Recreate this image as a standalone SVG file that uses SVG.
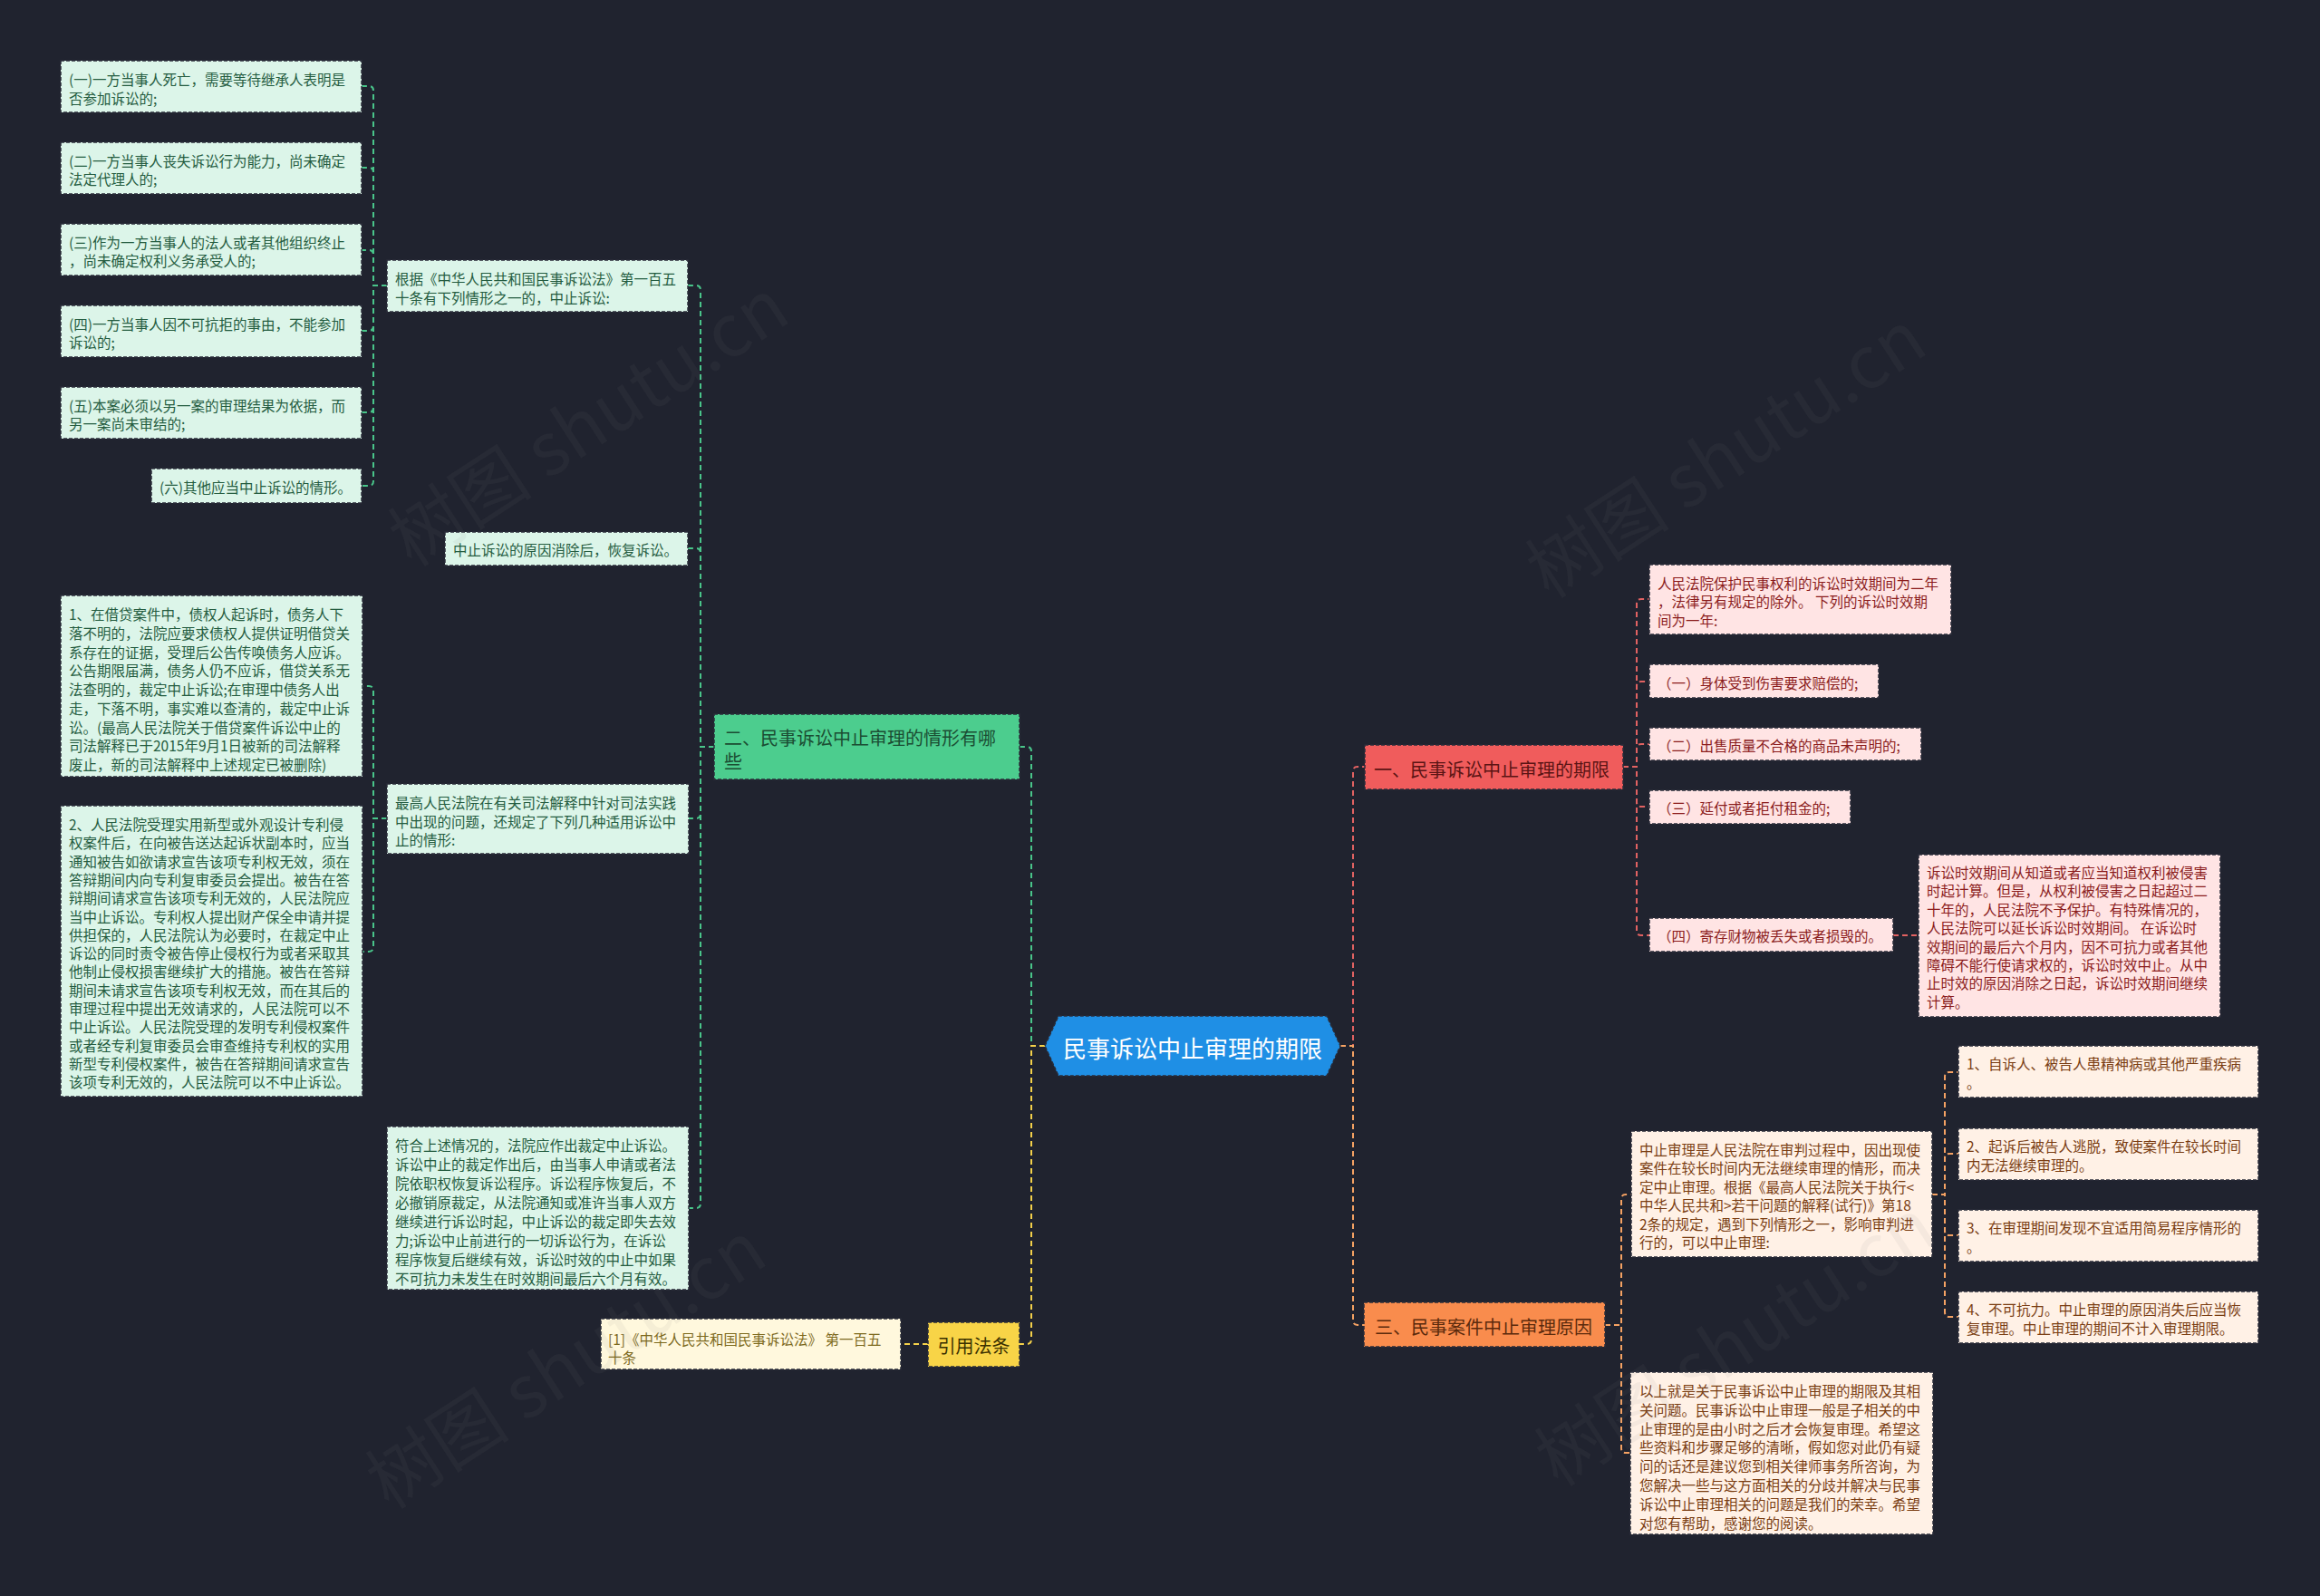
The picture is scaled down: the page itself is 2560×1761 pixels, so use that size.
<svg xmlns="http://www.w3.org/2000/svg" width="2560" height="1761" viewBox="0 0 2560 1761">
<defs>
<style>
text{font-family:"Noto Sans CJK SC","Noto Sans",sans-serif;}
.s{font-size:15.5px;dominant-baseline:central;}
.b{font-size:20px;dominant-baseline:central;}
.box{stroke:#2a2d3a;stroke-width:1.5;stroke-dasharray:4 2;}
.gl{fill:#dcf5e9;} .gt{fill:#245c40;}
.rl{fill:#ffe4e4;} .rt{fill:#8b1c1c;}
.ol{fill:#fff1e6;} .ot{fill:#7a3d12;}
.yl{fill:#fff8dd;} .yt{fill:#7d6a1e;}
.c{fill:none;stroke-width:2;stroke-dasharray:6 4;}
.cg{stroke:#49c58a;} .cr{stroke:#e26262;} .co{stroke:#f5a263;} .cy{stroke:#f3d04a;}
.wm{font-size:80px;fill:#808080;fill-opacity:0.08;}
</style>
</defs>
<rect x="0" y="0" width="2560" height="1761" fill="#20232f"/>

<g id="connectors">
<path class="c cg" d="M1153 1154 H1138 V829 Q1138 824 1133 824 H1125"/>
<path class="c cy" d="M1153 1154 H1138 V1478 Q1138 1483 1133 1483 H1125"/>
<path class="c cg" d="M788 824 H773 V320 Q773 315 768 315 H759"/>
<path class="c cg" d="M788 824 H773 V610 Q773 605 768 605 H759"/>
<path class="c cg" d="M788 824 H773 V898 Q773 903 768 903 H760"/>
<path class="c cg" d="M788 824 H773 V1328 Q773 1333 768 1333 H760"/>
<path class="c cg" d="M427 315 H412 V100 Q412 95 407 95 H399"/>
<path class="c cg" d="M427 315 H412 V190 Q412 185 407 185 H399"/>
<path class="c cg" d="M427 315 H412 V281 Q412 276 407 276 H399"/>
<path class="c cg" d="M427 315 H412 V360 Q412 365 407 365 H399"/>
<path class="c cg" d="M427 315 H412 V450 Q412 455 407 455 H399"/>
<path class="c cg" d="M427 315 H412 V531 Q412 536 407 536 H399"/>
<path class="c cg" d="M427 903 H412 V762 Q412 757 407 757 H400"/>
<path class="c cg" d="M427 903 H412 V1045 Q412 1050 407 1050 H400"/>
<path class="c cy" d="M1024 1483 H994"/>
<path class="c cr" d="M1479 1154 H1493 V851 Q1493 846 1498 846 H1506"/>
<path class="c co" d="M1479 1154 H1493 V1457 Q1493 1462 1498 1462 H1505"/>
<path class="c cr" d="M1791 846 H1806 V666 Q1806 661 1811 661 H1820"/>
<path class="c cr" d="M1791 846 H1806 V757 Q1806 752 1811 752 H1820"/>
<path class="c cr" d="M1791 846 H1806 V826 Q1806 821 1811 821 H1820"/>
<path class="c cr" d="M1791 846 H1806 V885 Q1806 890 1811 890 H1820"/>
<path class="c cr" d="M1791 846 H1806 V1027 Q1806 1032 1811 1032 H1820"/>
<path class="c cr" d="M2089 1032 H2117"/>
<path class="c co" d="M1771 1462 H1789 V1323 Q1789 1318 1794 1318 H1800"/>
<path class="c co" d="M1771 1462 H1789 V1598 Q1789 1603 1794 1603 H1799"/>
<path class="c co" d="M2132 1318 H2146 V1188 Q2146 1183 2151 1183 H2161"/>
<path class="c co" d="M2132 1318 H2146 V1278 Q2146 1273 2151 1273 H2161"/>
<path class="c co" d="M2132 1318 H2146 V1358 Q2146 1363 2151 1363 H2161"/>
<path class="c co" d="M2132 1318 H2146 V1448 Q2146 1453 2151 1453 H2161"/>
</g>

<g id="center">
<polygon class="box" points="1153,1154 1168,1121 1464,1121 1479,1154 1464,1187 1168,1187" fill="#1f8fe5"/>
<text x="1316" y="1155" font-size="26" fill="#ffffff" text-anchor="middle" dominant-baseline="central">民事诉讼中止审理的期限</text>
</g>

<g id="n-er">
<rect class="box" x="788" y="788" width="337" height="72" fill="#4ccd8e"/>
<text class="b" x="799" fill="#1b4d33"><tspan x="799" y="813">二、民事诉讼中止审理的情形有哪</tspan><tspan x="799" y="839">些</tspan></text>
</g>

<g id="n-m1">
<rect class="box gl" x="427" y="287" width="332" height="57"/>
<text class="s gt"><tspan x="436" y="307">根据《中华人民共和国民事诉讼法》第一百五</tspan><tspan x="436" y="327.6">十条有下列情形之一的，中止诉讼:</tspan></text>
</g>
<g id="n-l1">
<rect class="box gl" x="67" y="67" width="332" height="57"/>
<text class="s gt"><tspan x="76" y="87">(一)一方当事人死亡，需要等待继承人表明是</tspan><tspan x="76" y="107.5">否参加诉讼的;</tspan></text>
</g>
<g id="n-l2">
<rect class="box gl" x="67" y="157" width="332" height="57"/>
<text class="s gt"><tspan x="76" y="176.7">(二)一方当事人丧失诉讼行为能力，尚未确定</tspan><tspan x="76" y="197.3">法定代理人的;</tspan></text>
</g>
<g id="n-l3">
<rect class="box gl" x="67" y="247" width="332" height="57"/>
<text class="s gt"><tspan x="76" y="266.5">(三)作为一方当事人的法人或者其他组织终止</tspan><tspan x="76" y="287">，尚未确定权利义务承受人的;</tspan></text>
</g>
<g id="n-l4">
<rect class="box gl" x="67" y="337" width="332" height="57"/>
<text class="s gt"><tspan x="76" y="356.5">(四)一方当事人因不可抗拒的事由，不能参加</tspan><tspan x="76" y="377">诉讼的;</tspan></text>
</g>
<g id="n-l5">
<rect class="box gl" x="67" y="427" width="332" height="57"/>
<text class="s gt"><tspan x="76" y="446.5">(五)本案必须以另一案的审理结果为依据，而</tspan><tspan x="76" y="467">另一案尚未审结的;</tspan></text>
</g>
<g id="n-l6">
<rect class="box gl" x="167" y="517" width="232" height="38"/>
<text class="s gt" x="176" y="537">(六)其他应当中止诉讼的情形。</text>
</g>
<g id="n-m2">
<rect class="box gl" x="491" y="587" width="268" height="37"/>
<text class="s gt" x="500" y="606">中止诉讼的原因消除后，恢复诉讼。</text>
</g>
<g id="n-m3">
<rect class="box gl" x="427" y="865" width="333" height="77"/>
<text class="s gt"><tspan x="436" y="885">最高人民法院在有关司法解释中针对司法实践</tspan><tspan x="436" y="905.5">中出现的问题，还规定了下列几种适用诉讼中</tspan><tspan x="436" y="926">止的情形:</tspan></text>
</g>
<g id="n-l7">
<rect class="box gl" x="67" y="657" width="333" height="200"/>
<text class="s gt"><tspan x="76" y="677">1、在借贷案件中，债权人起诉时，债务人下</tspan><tspan x="76" y="697.75">落不明的，法院应要求债权人提供证明借贷关</tspan><tspan x="76" y="718.5">系存在的证据，受理后公告传唤债务人应诉。</tspan><tspan x="76" y="739.25">公告期限届满，债务人仍不应诉，借贷关系无</tspan><tspan x="76" y="760">法查明的，裁定中止诉讼;在审理中债务人出</tspan><tspan x="76" y="780.75">走，下落不明，事实难以查清的，裁定中止诉</tspan><tspan x="76" y="801.5">讼。(最高人民法院关于借贷案件诉讼中止的</tspan><tspan x="76" y="822.25">司法解释已于2015年9月1日被新的司法解释</tspan><tspan x="76" y="843">废止，新的司法解释中上述规定已被删除)</tspan></text>
</g>
<g id="n-l8">
<rect class="box gl" x="67" y="889" width="333" height="321"/>
<text class="s gt"><tspan x="76" y="909">2、人民法院受理实用新型或外观设计专利侵</tspan><tspan x="76" y="929.3">权案件后，在向被告送达起诉状副本时，应当</tspan><tspan x="76" y="949.6">通知被告如欲请求宣告该项专利权无效，须在</tspan><tspan x="76" y="969.9">答辩期间内向专利复审委员会提出。被告在答</tspan><tspan x="76" y="990.2">辩期间请求宣告该项专利无效的，人民法院应</tspan><tspan x="76" y="1010.5">当中止诉讼。专利权人提出财产保全申请并提</tspan><tspan x="76" y="1030.8">供担保的，人民法院认为必要时，在裁定中止</tspan><tspan x="76" y="1051.1">诉讼的同时责令被告停止侵权行为或者采取其</tspan><tspan x="76" y="1071.4">他制止侵权损害继续扩大的措施。被告在答辩</tspan><tspan x="76" y="1091.7">期间未请求宣告该项专利权无效，而在其后的</tspan><tspan x="76" y="1112">审理过程中提出无效请求的，人民法院可以不</tspan><tspan x="76" y="1132.3">中止诉讼。人民法院受理的发明专利侵权案件</tspan><tspan x="76" y="1152.6">或者经专利复审委员会审查维持专利权的实用</tspan><tspan x="76" y="1172.9">新型专利侵权案件，被告在答辩期间请求宣告</tspan><tspan x="76" y="1193.2">该项专利无效的，人民法院可以不中止诉讼。</tspan></text>
</g>
<g id="n-m4">
<rect class="box gl" x="427" y="1243" width="333" height="180"/>
<text class="s gt"><tspan x="436" y="1262.5">符合上述情况的，法院应作出裁定中止诉讼。</tspan><tspan x="436" y="1283.5">诉讼中止的裁定作出后，由当事人申请或者法</tspan><tspan x="436" y="1304.5">院依职权恢复诉讼程序。诉讼程序恢复后，不</tspan><tspan x="436" y="1325.5">必撤销原裁定，从法院通知或准许当事人双方</tspan><tspan x="436" y="1346.5">继续进行诉讼时起，中止诉讼的裁定即失去效</tspan><tspan x="436" y="1367.5">力;诉讼中止前进行的一切诉讼行为，在诉讼</tspan><tspan x="436" y="1388.5">程序恢复后继续有效，诉讼时效的中止中如果</tspan><tspan x="436" y="1409.5">不可抗力未发生在时效期间最后六个月有效。</tspan></text>
</g>

<g id="n-yin">
<rect class="box" x="1024" y="1459" width="101" height="49" fill="#f8d447"/>
<text class="b" x="1074.5" y="1484" fill="#3a3000" text-anchor="middle">引用法条</text>
</g>
<g id="n-ref">
<rect class="box yl" x="663" y="1455" width="331" height="56"/>
<text class="s yt"><tspan x="671" y="1477">[1]《中华人民共和国民事诉讼法》 第一百五</tspan><tspan x="671" y="1497">十条</tspan></text>
</g>

<g id="n-yi">
<rect class="box" x="1506" y="822" width="285" height="49" fill="#f05c5c"/>
<text class="b" x="1516" y="848" fill="#5b1414">一、民事诉讼中止审理的期限</text>
</g>
<g id="n-r1">
<rect class="box rl" x="1820" y="623" width="333" height="77"/>
<text class="s rt"><tspan x="1829" y="642.5">人民法院保护民事权利的诉讼时效期间为二年</tspan><tspan x="1829" y="663">，法律另有规定的除外。 下列的诉讼时效期</tspan><tspan x="1829" y="683.5">间为一年:</tspan></text>
</g>
<g id="n-r2">
<rect class="box rl" x="1820" y="733" width="253" height="37"/>
<text class="s rt" x="1829" y="752.5">（一）身体受到伤害要求赔偿的;</text>
</g>
<g id="n-r3">
<rect class="box rl" x="1820" y="803" width="300" height="36"/>
<text class="s rt" x="1829" y="822">（二）出售质量不合格的商品未声明的;</text>
</g>
<g id="n-r4">
<rect class="box rl" x="1820" y="872" width="222" height="37"/>
<text class="s rt" x="1829" y="891">（三）延付或者拒付租金的;</text>
</g>
<g id="n-r5">
<rect class="box rl" x="1820" y="1013" width="269" height="37"/>
<text class="s rt" x="1829" y="1032">（四）寄存财物被丢失或者损毁的。</text>
</g>
<g id="n-r6">
<rect class="box rl" x="2117" y="943" width="333" height="179"/>
<text class="s rt"><tspan x="2126" y="962">诉讼时效期间从知道或者应当知道权利被侵害</tspan><tspan x="2126" y="982.4">时起计算。但是，从权利被侵害之日起超过二</tspan><tspan x="2126" y="1002.8">十年的，人民法院不予保护。有特殊情况的，</tspan><tspan x="2126" y="1023.2">人民法院可以延长诉讼时效期间。 在诉讼时</tspan><tspan x="2126" y="1043.6">效期间的最后六个月内，因不可抗力或者其他</tspan><tspan x="2126" y="1064">障碍不能行使请求权的，诉讼时效中止。从中</tspan><tspan x="2126" y="1084.4">止时效的原因消除之日起，诉讼时效期间继续</tspan><tspan x="2126" y="1104.8">计算。</tspan></text>
</g>

<g id="n-san">
<rect class="box" x="1505" y="1437" width="266" height="49" fill="#f98c4d"/>
<text class="b" x="1517" y="1463" fill="#5b2a0c">三、民事案件中止审理原因</text>
</g>
<g id="n-r7">
<rect class="box ol" x="1800" y="1248" width="332" height="139"/>
<text class="s ot"><tspan x="1809" y="1268">中止审理是人民法院在审判过程中，因出现使</tspan><tspan x="1809" y="1288.4">案件在较长时间内无法继续审理的情形，而决</tspan><tspan x="1809" y="1308.8">定中止审理。根据《最高人民法院关于执行&lt;</tspan><tspan x="1809" y="1329.2">中华人民共和&gt;若干问题的解释(试行)》第18</tspan><tspan x="1809" y="1349.6">2条的规定，遇到下列情形之一，影响审判进</tspan><tspan x="1809" y="1370">行的，可以中止审理:</tspan></text>
</g>
<g id="n-r8">
<rect class="box ol" x="2161" y="1154" width="331" height="57"/>
<text class="s ot"><tspan x="2170" y="1173">1、自诉人、被告人患精神病或其他严重疾病</tspan><tspan x="2170" y="1193.5">。</tspan></text>
</g>
<g id="n-r9">
<rect class="box ol" x="2161" y="1245" width="331" height="57"/>
<text class="s ot"><tspan x="2170" y="1264">2、起诉后被告人逃脱，致使案件在较长时间</tspan><tspan x="2170" y="1284.5">内无法继续审理的。</tspan></text>
</g>
<g id="n-r10">
<rect class="box ol" x="2161" y="1335" width="331" height="57"/>
<text class="s ot"><tspan x="2170" y="1354">3、在审理期间发现不宜适用简易程序情形的</tspan><tspan x="2170" y="1374.5">。</tspan></text>
</g>
<g id="n-r11">
<rect class="box ol" x="2161" y="1425" width="331" height="57"/>
<text class="s ot"><tspan x="2170" y="1444">4、不可抗力。中止审理的原因消失后应当恢</tspan><tspan x="2170" y="1464.5">复审理。中止审理的期间不计入审理期限。</tspan></text>
</g>
<g id="n-r12">
<rect class="box ol" x="1799" y="1514" width="334" height="179"/>
<text class="s ot"><tspan x="1809" y="1534">以上就是关于民事诉讼中止审理的期限及其相</tspan><tspan x="1809" y="1554.8">关问题。民事诉讼中止审理一般是子相关的中</tspan><tspan x="1809" y="1575.6">止审理的是由小时之后才会恢复审理。希望这</tspan><tspan x="1809" y="1596.4">些资料和步骤足够的清晰，假如您对此仍有疑</tspan><tspan x="1809" y="1617.2">问的话还是建议您到相关律师事务所咨询，为</tspan><tspan x="1809" y="1638">您解决一些与这方面相关的分歧并解决与民事</tspan><tspan x="1809" y="1658.8">诉讼中止审理相关的问题是我们的荣幸。希望</tspan><tspan x="1809" y="1679.6">对您有帮助，感谢您的阅读。</tspan></text>
</g>

<g id="watermarks">
<text class="wm" x="665" y="490" text-anchor="middle" transform="rotate(-33 665 490)">树图 shutu.cn</text>
<text class="wm" x="640" y="1530" text-anchor="middle" transform="rotate(-33 640 1530)">树图 shutu.cn</text>
<text class="wm" x="1920" y="525" text-anchor="middle" transform="rotate(-33 1920 525)">树图 shutu.cn</text>
<text class="wm" x="1930" y="1505" text-anchor="middle" transform="rotate(-33 1930 1505)">树图 shutu.cn</text>
</g>
</svg>
